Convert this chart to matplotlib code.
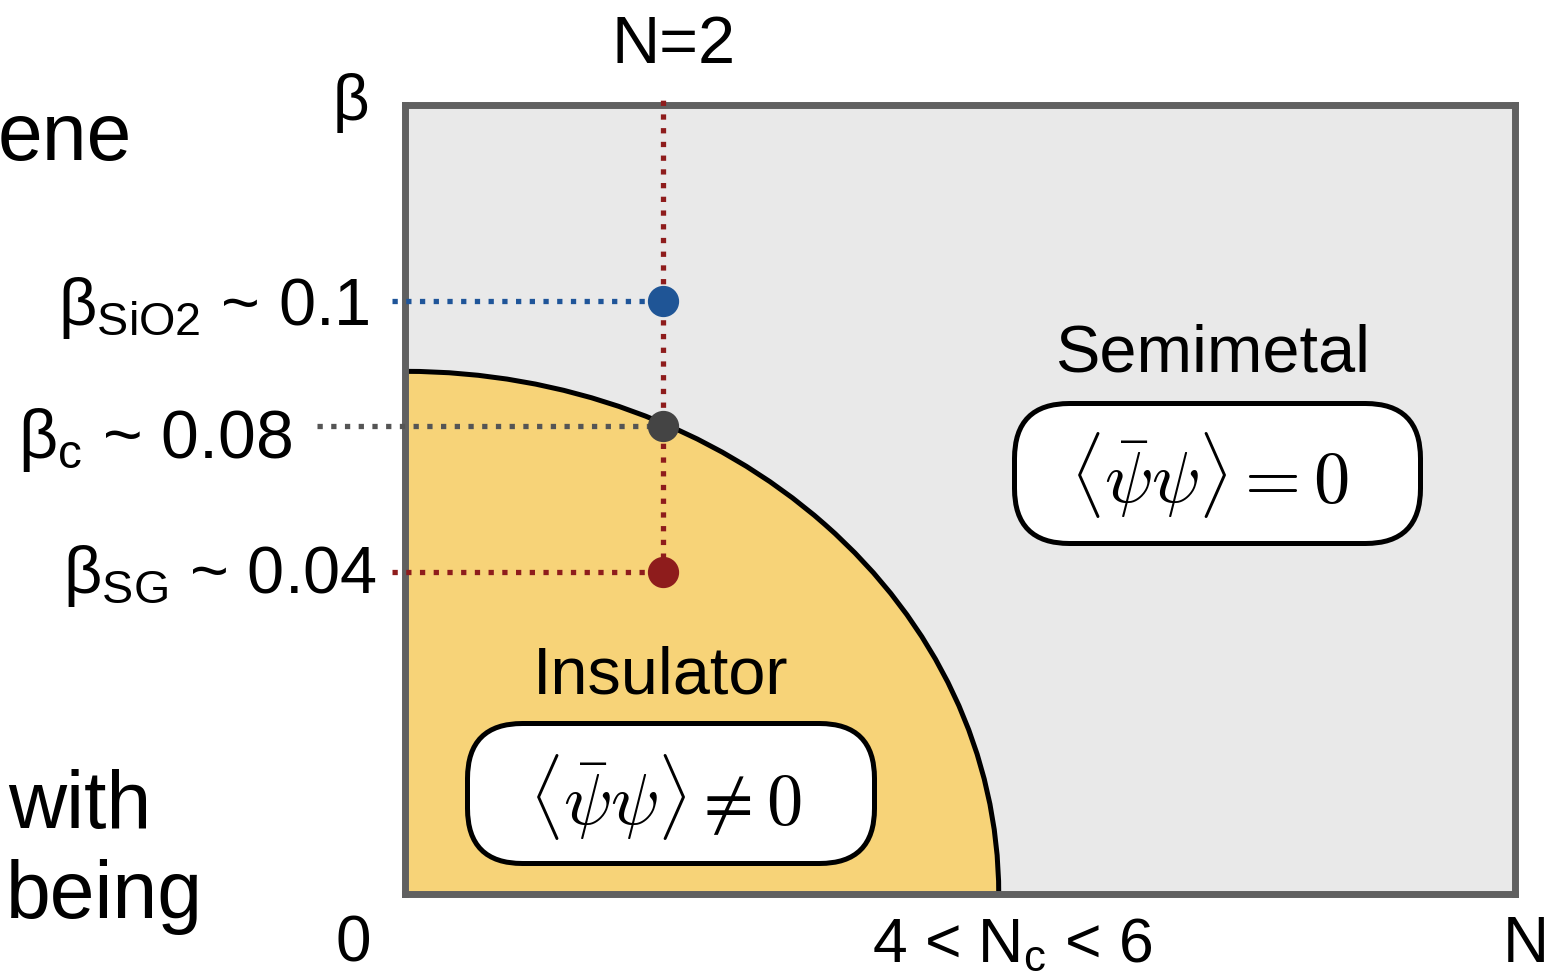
import matplotlib
matplotlib.use("Agg")
import matplotlib.pyplot as plt
from matplotlib.patches import Ellipse, FancyBboxPatch

plt.rcParams["font.family"] = ["Liberation Sans", "DejaVu Sans"]
plt.rcParams["mathtext.fontset"] = "custom"
plt.rcParams["mathtext.rm"] = "Liberation Sans"
plt.rcParams["mathtext.it"] = "Liberation Sans:italic"
plt.rcParams["mathtext.bf"] = "Liberation Sans:bold"

# schematic phase diagram (beta positions are schematic, axis fraction)
N_max = 8.6
N_c = 4.6          # phase boundary where beta -> 0
beta_top = 0.662   # phase boundary at N -> 0
N_line = 2
pt_names = ["SiO2", "c", "SG"]
pt_values = ["0.1", "0.08", "0.04"]
pt_beta = [0.751, 0.593, 0.408]
pt_colors = ["#1f5596", "#444444", "#8e1c1c"]
line_colors = ["#1f5599", "#555555", "#8e1c1c"]
line_start = [-0.1, -0.68, -0.1]

fig = plt.figure(figsize=(15.59, 9.78), dpi=100)
ax = fig.add_axes([405 / 1559, 83 / 978, 1110 / 1559, 789.5 / 978])
ax.set_xlim(0, N_max)
ax.set_ylim(0, 1)
ax.set_facecolor("#e9e9e9")
ax.set_xticks([])
ax.set_yticks([])
for s in ax.spines.values():
    s.set_color("#606060")
    s.set_linewidth(5)

ell = Ellipse((0, 0), 2 * N_c, 2 * beta_top, facecolor="#f7d378",
              edgecolor="black", linewidth=3.6, zorder=1)
ax.add_patch(ell)

dots = (0, (1, 1.6))
ax.plot([N_line, N_line], [pt_beta[2], 1.01], color="#8e1c1c", lw=3.8,
        ls=dots, dash_capstyle="butt", clip_on=False, zorder=3)
for b, c, x0 in zip(pt_beta, line_colors, line_start):
    ax.plot([x0, N_line], [b, b], color=c, lw=3.8, ls=dots,
            dash_capstyle="butt", clip_on=False, zorder=3)
for b, c in zip(pt_beta, pt_colors):
    ax.plot(N_line, b, "o", color=c, markersize=21.5, zorder=5, clip_on=False)

# overlay in pixel units for labels and boxes
ov = fig.add_axes([0, 0, 1, 1], zorder=10)
ov.set_xlim(0, 1559)
ov.set_ylim(978, 0)
ov.axis("off")
ov.patch.set_alpha(0)

for x0, y0, x1, y1 in [(1014.5, 404.5, 1420.5, 544.5), (467.5, 724.5, 874.5, 864.5)]:
    box = FancyBboxPatch((x0, y0), x1 - x0, y1 - y0,
                         boxstyle="round,pad=0,rounding_size=55",
                         facecolor="white", edgecolor="black", linewidth=3.6)
    ov.add_patch(box)

ov.text(1210, 475, r"$\langle\bar{\psi}\psi\rangle = 0$", fontsize=52,
        math_fontfamily="cm", ha="center", va="center")
ov.text(665, 797, r"$\langle\bar{\psi}\psi\rangle \neq 0$", fontsize=52,
        math_fontfamily="cm", ha="center", va="center")

ov.text(1213, 372, "Semimetal", fontsize=48, ha="center", va="baseline")
ov.text(661, 693, "Insulator", fontsize=48, ha="center", va="baseline")
ov.text(674, 63, "N=2", fontsize=48, ha="center", va="baseline")
ov.text(351, 120, "β", fontsize=46, ha="center", va="baseline")
ov.text(353, 962, "0", fontsize=46, ha="center", va="baseline")
ov.text(1526, 962, "N", fontsize=46, ha="center", va="baseline")
ov.text(1012, 962, r"4 < N$_\mathrm{c}$ < 6", fontsize=45, ha="center", va="baseline")

label_pos = [(370, 325, 48), (292, 458, 49), (377, 593, 48)]
for name, val, (x, y, fs) in zip(pt_names, pt_values, label_pos):
    ov.text(x, y, r"β$_\mathrm{%s}$ ~ %s" % (name, val), fontsize=fs,
            ha="right", va="baseline")

# slide text cut off at the left
ov.text(-2, 160, "ene", fontsize=58, ha="left", va="baseline")
ov.text(8, 828, "with", fontsize=58, ha="left", va="baseline")
ov.text(6, 918, "being", fontsize=58, ha="left", va="baseline")

fig.savefig("out.png", dpi=100)
